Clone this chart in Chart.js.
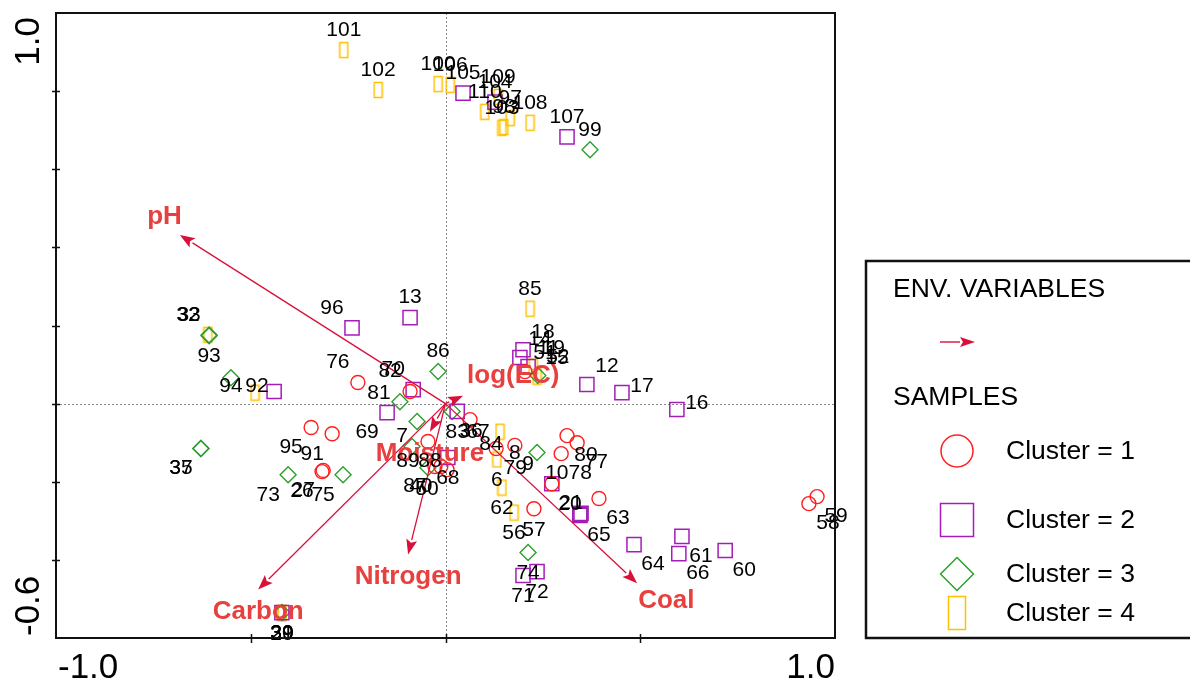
<!DOCTYPE html>
<html>
<head>
<meta charset="utf-8">
<script src="https://cdn.jsdelivr.net/npm/chart.js@4.4.1/dist/chart.umd.min.js"></script>
<style>
  html, body { margin: 0; padding: 0; background: #fff; }
</style>
</head>
<body>
<canvas id="biplot" width="1190" height="684"></canvas>
<script>
// Sample scores per cluster (axis 1 = x, axis 2 = y)
const clusterNames = ['Cluster = 1', 'Cluster = 2', 'Cluster = 3', 'Cluster = 4'];

const c1Ids = ['76','82','95','91','26','27','89','87','40','50','67','79','8','80','77','78','10','63','57','58','59','51'];
const c1X = [-0.225,-0.091,-0.345,-0.291,-0.317,-0.314,-0.045,-0.027,-0.012,0.004,0.063,0.130,0.178,0.312,0.338,0.297,0.273,0.394,0.227,0.933,0.954,0.204];
const c1Y = [0.054,0.031,-0.061,-0.077,-0.174,-0.171,-0.097,-0.161,-0.161,-0.169,-0.041,-0.115,-0.107,-0.082,-0.100,-0.128,-0.205,-0.243,-0.269,-0.256,-0.238,0.082];

const c2Ids = ['105','104','107','13','96','90','70','69','83','68','18','14','11','12','17','16','1','20','21','65','64','61','66','60','71','72','39'];
const c2X = [0.045,0.127,0.312,-0.091,-0.240,-0.440,-0.083,-0.150,0.030,0.006,0.199,0.191,0.212,0.363,0.453,0.594,0.273,0.345,0.348,0.345,0.484,0.607,0.599,0.718,0.199,0.235,-0.420];
const c2Y = [0.795,0.772,0.683,0.220,0.194,0.031,0.036,-0.023,-0.020,-0.138,0.138,0.118,0.095,0.049,0.028,-0.015,-0.205,-0.284,-0.281,-0.286,-0.361,-0.340,-0.384,-0.376,-0.440,-0.430,-0.535];

const c3Ids = ['99','93','33','94','86','81','5','7','36','88','9','74','35','37','73','75','31','52'];
const c3X = [0.371,-0.607,-0.607,-0.551,-0.019,-0.117,-0.073,-0.086,0.017,-0.045,0.235,0.212,-0.628,-0.628,-0.404,-0.263,-0.420,0.237];
const c3Y = [0.650,0.176,0.174,0.066,0.082,0.005,-0.046,-0.110,-0.020,-0.164,-0.125,-0.381,-0.115,-0.115,-0.182,-0.182,-0.535,0.072];

const c4Ids = ['101','102','100','106','110','109','97','103','98','108','85','32','92','19','15','84','6','62','56','30','29'];
const c4X = [-0.261,-0.173,-0.019,0.012,0.101,0.135,0.166,0.145,0.150,0.217,0.217,-0.610,-0.489,0.225,0.235,0.140,0.132,0.145,0.176,-0.420,-0.420];
const c4Y = [0.905,0.803,0.818,0.816,0.747,0.785,0.731,0.706,0.708,0.719,0.243,0.176,0.028,0.095,0.069,-0.072,-0.143,-0.215,-0.279,-0.535,-0.537];

// Environmental variable arrows (biplot scores)
const envNames = ['pH','Carbon','Nitrogen','Coal','Moisture','log(EC)'];
const envX = [-0.682,-0.481,-0.096,0.492,-0.040,0.045];
const envY = [0.432,-0.476,-0.386,-0.460,-0.072,0.020];

// axis tick labels shown at the ends
const xTickLabels = ['-1.0', '1.0'];
const yTickLabels = ['-0.6', '1.0'];

// where each sample label sits relative to its symbol (layout only)
const c1Side = ['NW','NW','SW','SW','SW','SW','SW','SW','SW','SW','s','SE','C','SE','SE','SE','n','SE','S','SE','SE','NE'];
const c2Side = ['N','N','N','N','NW','-','NW','SW','S','S','NE','NE','NE','NE','E','E','-','w','w','SE','SE','SE','SE','SE','S','S','S'];
const c3Side = ['N','S','NW','C','N','W','-','w','SE','U','sw','S','SW','SW','SW','SW','S','NE'];
const c4Side = ['N','N','N','N','N','N','N','N','N','N','N','NW','U','NE','NE','sw','S','S','S','S','S'];
const envSide = ['NW','S','S','SE','S','NE'];

const nudge = {
  N: [0,-20], S: [0,21], E: [20,-6], W: [-21,-8], NE: [20,-18], NW: [-20,-20],
  SE: [19,20], SW: [-20,20], C: [0,8], U: [2,-6], n: [5,-11], s: [8,13], w: [-10,-10], sw: [-9,12]
};

const RED = '#ff1f1f', PURPLE = '#a51db8', GREEN = '#2e9e2e', YELLOW = '#ffc000';
const ARROW = '#d8103a', ENVTEXT = '#e8403f';

function tallRect(w, h, color) {
  const cv = document.createElement('canvas');
  cv.width = w + 3; cv.height = h + 3;
  const g = cv.getContext('2d');
  g.strokeStyle = color; g.lineWidth = 1.5;
  g.strokeRect(1.5, 1.5, w, h);
  return cv;
}
const yellowMark = tallRect(8, 15, YELLOW);

function pts(xs, ys) { return xs.map((x, i) => ({ x: x, y: ys[i] })); }

const groups = [
  { ids: c1Ids, side: c1Side },
  { ids: c2Ids, side: c2Side },
  { ids: c3Ids, side: c3Side },
  { ids: c4Ids, side: c4Side }
];

function drawArrow(ctx, x1, y1, x2, y2, head, half) {
  const a = Math.atan2(y2 - y1, x2 - x1);
  const bx = x2 - head * Math.cos(a), by = y2 - head * Math.sin(a);
  ctx.beginPath(); ctx.moveTo(x1, y1); ctx.lineTo(bx, by); ctx.stroke();
  ctx.beginPath();
  ctx.moveTo(x2, y2);
  ctx.lineTo(bx + half * Math.sin(a), by - half * Math.cos(a));
  ctx.lineTo(x2 - head * 0.8 * Math.cos(a), y2 - head * 0.8 * Math.sin(a));
  ctx.lineTo(bx - half * Math.sin(a), by + half * Math.cos(a));
  ctx.closePath(); ctx.fill();
}

const decor = {
  id: 'decor',
  beforeDatasetsDraw(chart) {
    const { ctx, chartArea: a, scales: { x, y } } = chart;
    ctx.save();
    ctx.strokeStyle = '#888'; ctx.lineWidth = 1; ctx.setLineDash([2, 2]);
    const x0 = Math.round(x.getPixelForValue(0)) + 0.5;
    const y0 = Math.round(y.getPixelForValue(0)) + 0.5;
    ctx.beginPath();
    ctx.moveTo(x0, a.top); ctx.lineTo(x0, a.bottom);
    ctx.moveTo(a.left, y0); ctx.lineTo(a.right, y0);
    ctx.stroke();
    ctx.restore();
  },
  afterDatasetsDraw(chart) {
    const { ctx, chartArea: a, scales: { x, y } } = chart;
    ctx.save();

    // env arrows
    const ox = x.getPixelForValue(0), oy = y.getPixelForValue(0);
    ctx.strokeStyle = ARROW; ctx.fillStyle = ARROW; ctx.lineWidth = 1.3;
    envNames.forEach((n, i) => {
      drawArrow(ctx, ox, oy, x.getPixelForValue(envX[i]), y.getPixelForValue(envY[i]), 15, 5.5);
    });
    ctx.font = 'bold 26px Arial';
    ctx.fillStyle = ENVTEXT;
    ctx.textBaseline = 'middle';
    envNames.forEach((n, i) => {
      const tx = x.getPixelForValue(envX[i]), ty = y.getPixelForValue(envY[i]);
      const s = envSide[i];
      if (s === 'NW') { ctx.textAlign = 'right'; ctx.fillText(n, tx + 2, ty - 18); }
      else if (s === 'NE') { ctx.textAlign = 'left'; ctx.fillText(n, tx + 4, ty - 20); }
      else if (s === 'SE') { ctx.textAlign = 'left'; ctx.fillText(n, tx + 1, ty + 18); }
      else { ctx.textAlign = 'center'; ctx.fillText(n, tx, ty + 22); }
    });

    // sample labels
    ctx.font = '21px Arial';
    ctx.fillStyle = '#000';
    ctx.textAlign = 'center';
    chart.data.datasets.forEach((ds, di) => {
      const meta = chart.getDatasetMeta(di);
      const g = groups[di];
      meta.data.forEach((el, i) => {
        const off = nudge[g.side[i]];
        if (!off) return;
        ctx.fillText(g.ids[i], el.x + off[0], el.y + off[1]);
      });
    });

    // frame
    ctx.strokeStyle = '#111'; ctx.lineWidth = 2;
    ctx.strokeRect(a.left, a.top, a.right - a.left, a.bottom - a.top);

    // tick marks
    ctx.lineWidth = 1.5;
    ctx.beginPath();
    [-0.4, -0.2, 0, 0.2, 0.4, 0.6, 0.8].forEach(v => {
      const py = Math.round(y.getPixelForValue(v)) + 0.5;
      ctx.moveTo(a.left - 4, py); ctx.lineTo(a.left + 4, py);
    });
    [-0.5, 0, 0.5].forEach(v => {
      const px = Math.round(x.getPixelForValue(v)) + 0.5;
      ctx.moveTo(px, a.bottom - 4); ctx.lineTo(px, a.bottom + 5);
    });
    ctx.stroke();

    // tick labels at the axis ends
    ctx.font = '35px Arial';
    ctx.fillStyle = '#000';
    ctx.textBaseline = 'alphabetic';
    ctx.textAlign = 'left';
    ctx.fillText(xTickLabels[0], x.getPixelForValue(x.min) + 2, 678);
    ctx.textAlign = 'right';
    ctx.fillText(xTickLabels[1], x.getPixelForValue(x.max), 678);
    ctx.save();
    ctx.translate(39, y.getPixelForValue(y.min) - 2);
    ctx.rotate(-Math.PI / 2);
    ctx.textAlign = 'left';
    ctx.fillText(yTickLabels[0], 0, 0);
    ctx.restore();
    ctx.save();
    ctx.translate(39, y.getPixelForValue(y.max) + 4);
    ctx.rotate(-Math.PI / 2);
    ctx.textAlign = 'right';
    ctx.fillText(yTickLabels[1], 0, 0);
    ctx.restore();

    // legend box
    ctx.strokeStyle = '#111'; ctx.lineWidth = 2.5;
    ctx.strokeRect(866, 261, 340, 377);
    ctx.font = '26.5px Arial';
    ctx.fillStyle = '#000';
    ctx.textAlign = 'left'; ctx.textBaseline = 'middle';
    ctx.fillText('ENV. VARIABLES', 893, 290);
    ctx.fillText('SAMPLES', 893, 398);
    ctx.strokeStyle = ARROW; ctx.fillStyle = ARROW; ctx.lineWidth = 1.4;
    drawArrow(ctx, 940, 342, 975, 342, 15, 5);

    const cx = 957, rows = [451, 520, 574, 613];
    ctx.lineWidth = 1.5;
    ctx.strokeStyle = RED;
    ctx.beginPath(); ctx.arc(cx, rows[0], 16, 0, Math.PI * 2); ctx.stroke();
    ctx.strokeStyle = PURPLE;
    ctx.strokeRect(cx - 16.5, rows[1] - 16.5, 33, 33);
    ctx.strokeStyle = GREEN;
    ctx.beginPath();
    ctx.moveTo(cx, rows[2] - 16.5); ctx.lineTo(cx + 16.5, rows[2]);
    ctx.lineTo(cx, rows[2] + 16.5); ctx.lineTo(cx - 16.5, rows[2]); ctx.closePath(); ctx.stroke();
    ctx.strokeStyle = YELLOW;
    ctx.strokeRect(cx - 8.5, rows[3] - 16.5, 17, 33);
    ctx.fillStyle = '#000';
    clusterNames.forEach((n, i) => ctx.fillText(n, 1006, rows[i] + 1));

    ctx.restore();
  }
};

new Chart(document.getElementById('biplot'), {
  type: 'scatter',
  data: {
    datasets: [
      { label: clusterNames[0], data: pts(c1X, c1Y), pointStyle: 'circle', pointRadius: 7,
        borderColor: RED, backgroundColor: 'rgba(0,0,0,0)', borderWidth: 1.4 },
      { label: clusterNames[1], data: pts(c2X, c2Y), pointStyle: 'rect', pointRadius: 10,
        borderColor: PURPLE, backgroundColor: 'rgba(0,0,0,0)', borderWidth: 1.5 },
      { label: clusterNames[2], data: pts(c3X, c3Y), pointStyle: 'rectRot', pointRadius: 8,
        borderColor: GREEN, backgroundColor: 'rgba(0,0,0,0)', borderWidth: 1.4 },
      { label: clusterNames[3], data: pts(c4X, c4Y), pointStyle: yellowMark, pointRadius: 8,
        borderColor: YELLOW, backgroundColor: 'rgba(0,0,0,0)', borderWidth: 1.5 }
    ]
  },
  options: {
    responsive: false,
    animation: false,
    devicePixelRatio: 1,
    layout: { padding: { left: 56, right: 355, top: 13, bottom: 46 } },
    scales: {
      x: { type: 'linear', min: -1.0, max: 1.0, display: false },
      y: { type: 'linear', min: -0.6, max: 1.0, display: false }
    },
    plugins: { legend: { display: false }, tooltip: { enabled: false } }
  },
  plugins: [decor]
});
</script>
</body>
</html>
